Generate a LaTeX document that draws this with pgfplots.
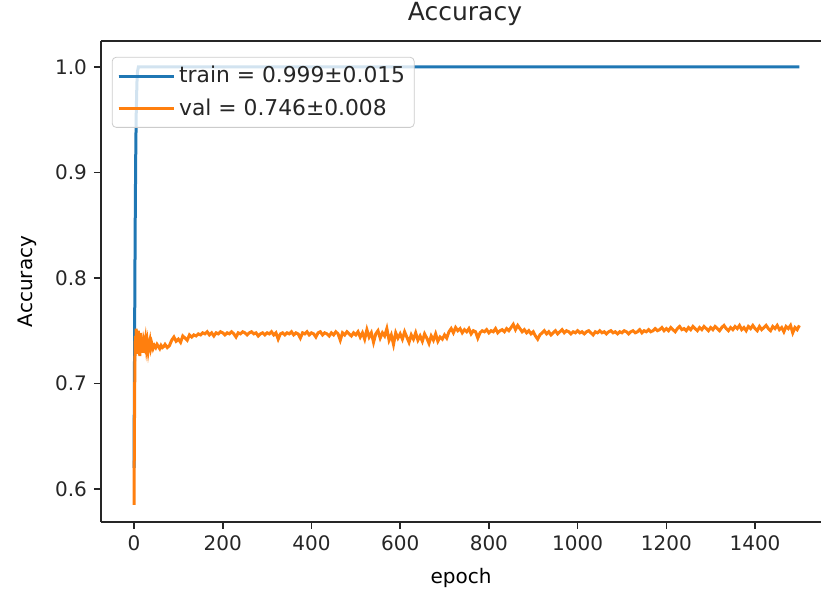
\documentclass[border=0pt]{standalone}
\usepackage{fontspec}
\setmainfont{DejaVu Sans}
\usepackage{pgfplots}
\pgfplotsset{compat=1.18}
\definecolor{mplblue}{HTML}{1F77B4}
\definecolor{mplorange}{HTML}{FF7F0E}

\begin{document}
\begin{tikzpicture}
\begin{axis}[
  scale only axis, width=360pt, height=240.5pt,
  xmin=-74.4, xmax=1548.7, ymin=0.5687, ymax=1.0246,
  axis x line*=box, axis y line*=left,
  xtick pos=left, ytick pos=left,
  xtick={0,200,...,1400}, ytick={0.6,0.7,0.8,0.9,1.0},
  tick align=outside, major tick length=3.5pt,
  every tick/.style={black!85, line width=0.8pt},
  axis line style={black!85, line width=0.8pt},
  /pgf/number format/assume math mode=true,
  /pgf/number format/1000 sep={},
  yticklabel style={/pgf/number format/fixed, /pgf/number format/fixed zerofill, /pgf/number format/precision=1},
  tick label style={font=\fontsize{10}{12}\selectfont, text=black!85},
  label style={font=\fontsize{10}{12}\selectfont, text=black!85},
  title={Accuracy},
  title style={font=\fontsize{12.5}{14}\selectfont, text=black!85, at={(rel axis cs:0.5,1)}, anchor=base, yshift=4pt, xshift=2pt},
  xlabel={epoch}, ylabel={Accuracy},
  every axis x label/.style={at={(rel axis cs:0.5,0)}, anchor=center, yshift=-28pt},
  every axis y label/.style={at={(rel axis cs:0,0.5)}, anchor=center, rotate=90, yshift=37pt},
  legend style={at={(rel axis cs:0.015,0.967)}, anchor=north west, draw=black!20, rounded corners=2pt,
    fill=white, fill opacity=0.8, text opacity=1, font=\fontsize{10.9}{13}\selectfont, text=black!85,
    row sep=2.5pt, inner sep=2.5pt},
  legend cell align=left,
  legend image code/.code={\draw[#1] (0pt,0pt) -- (22pt,0pt);\path (0pt,0pt) -- (27.5pt,0pt);},
]
\coordinate (ll) at (rel axis cs:0,0);
\coordinate (ur) at (rel axis cs:1,1);
\addplot[mplblue, line width=1.5pt] coordinates {
(0,0.62)(1,0.71)(2,0.80)(3,0.87)(4,0.92)(5,0.955)(6,0.975)(7,0.99)(8,0.996)(10,1.0)(1500,1.0)
};
\addlegendentry{train = 0.999±0.015}
\addplot[mplorange, line width=1.5pt] coordinates {
(0,0.585)(1,0.66)(2,0.72)(3,0.745)(4,0.73)(5,0.752)(6,0.735)(7,0.748)(8,0.728)(9,0.742)
(10,0.75)(11,0.733)(12,0.745)(13,0.726)(14,0.738)(15,0.748)(16,0.731)(17,0.741)(18,0.735)(19,0.744)
(20,0.729)(22,0.74)(24,0.736)(26,0.742)(28,0.733)(30,0.739)(32,0.731)(34,0.737)(36,0.741)(38,0.734)
(40,0.738)(43,0.733)(46,0.736)(49,0.734)(52,0.737)(55,0.735)(58,0.733)(61,0.736)(64,0.734)(67,0.735)
(70,0.737)(75,0.734)(80,0.736)(85,0.741)(90,0.744)(95,0.74)(100,0.742)(105,0.739)(110,0.745)(115,0.743)
(120,0.741)(125,0.746)(130,0.744)(135,0.746)(140,0.745)(145,0.747)
(150,0.746)(155,0.748)(160,0.747)(165,0.749)(170,0.746)(175,0.748)(180,0.745)(185,0.748)(190,0.747)(195,0.749)
(200,0.748)(205,0.746)(210,0.748)(215,0.747)(220,0.749)(225,0.747)(230,0.744)(235,0.748)(240,0.747)(245,0.749)
(250,0.748)(255,0.746)(260,0.748)(265,0.749)(270,0.747)(275,0.748)(280,0.745)(285,0.747)(290,0.748)(295,0.746)
(300,0.748)(305,0.747)(310,0.749)(315,0.746)(320,0.748)(325,0.742)(330,0.747)(335,0.748)(340,0.746)(345,0.748)
(350,0.747)(355,0.749)(360,0.746)(365,0.748)(370,0.747)(375,0.743)(380,0.748)(385,0.747)(390,0.749)(395,0.746)
(400,0.748)(405,0.747)(410,0.744)(415,0.748)(420,0.749)(425,0.746)(430,0.748)(435,0.747)(440,0.745)(445,0.748)
(450,0.746)(455,0.749)(460,0.747)(465,0.741)(470,0.748)(475,0.746)(480,0.749)(485,0.747)(490,0.745)(495,0.748)
(500,0.746)(505,0.749)(510,0.744)(515,0.748)(520,0.742)(525,0.751)(530,0.744)(535,0.748)(540,0.739)(545,0.747)
(550,0.750)(555,0.743)(560,0.748)(565,0.745)(570,0.752)(575,0.741)(580,0.746)(585,0.737)(590,0.748)(595,0.743)
(600,0.747)(605,0.742)(610,0.749)(615,0.744)(620,0.739)(625,0.746)(630,0.742)(635,0.748)(640,0.741)(645,0.745)
(650,0.740)(655,0.747)(660,0.743)(665,0.738)(670,0.745)(675,0.741)(680,0.747)(685,0.740)(690,0.744)(695,0.742)
(700,0.746)(705,0.743)(710,0.749)(715,0.752)(720,0.748)(725,0.753)(730,0.750)(735,0.752)(740,0.748)(745,0.751)
(750,0.749)(755,0.752)(760,0.747)(765,0.750)(770,0.749)(775,0.743)(780,0.748)(785,0.750)(790,0.749)(795,0.751)
(800,0.748)(805,0.750)(810,0.749)(815,0.752)(820,0.748)(825,0.750)(830,0.751)(835,0.749)(840,0.752)(845,0.750)
(850,0.753)(855,0.756)(860,0.751)(865,0.755)(870,0.752)(875,0.749)(880,0.751)(885,0.748)(890,0.750)(895,0.747)
(900,0.749)(905,0.745)(910,0.742)(915,0.746)(920,0.748)(925,0.750)(930,0.747)(935,0.749)(940,0.746)(945,0.748)
(950,0.750)(955,0.747)(960,0.749)(965,0.751)(970,0.748)(975,0.750)(980,0.749)(985,0.747)(990,0.749)(995,0.748)
(1000,0.750)(1005,0.748)(1010,0.749)(1015,0.747)(1020,0.749)(1025,0.750)(1030,0.748)(1035,0.746)(1040,0.749)(1045,0.748)
(1050,0.750)(1055,0.748)(1060,0.749)(1065,0.747)(1070,0.749)(1075,0.750)(1080,0.748)(1085,0.749)(1090,0.747)(1095,0.749)
(1100,0.748)(1105,0.750)(1110,0.749)(1115,0.747)(1120,0.749)(1125,0.750)(1130,0.748)(1135,0.749)(1140,0.751)(1145,0.748)
(1150,0.750)(1155,0.749)(1160,0.751)(1165,0.749)(1170,0.750)(1175,0.752)(1180,0.750)(1185,0.751)(1190,0.753)(1195,0.750)
(1200,0.752)(1205,0.750)(1210,0.753)(1215,0.751)(1220,0.749)(1225,0.752)(1230,0.754)(1235,0.751)(1240,0.752)(1245,0.750)
(1250,0.753)(1255,0.751)(1260,0.754)(1265,0.752)(1270,0.750)(1275,0.753)(1280,0.751)(1285,0.754)(1290,0.752)(1295,0.750)
(1300,0.753)(1305,0.751)(1310,0.754)(1315,0.752)(1320,0.750)(1325,0.753)(1330,0.755)(1335,0.752)(1340,0.750)(1345,0.753)
(1350,0.751)(1355,0.754)(1360,0.752)(1365,0.755)(1370,0.751)(1375,0.753)(1380,0.750)(1385,0.754)(1390,0.752)(1395,0.755)
(1400,0.752)(1405,0.750)(1410,0.754)(1415,0.751)(1420,0.753)(1425,0.755)(1430,0.752)(1435,0.750)(1440,0.754)(1445,0.752)
(1450,0.755)(1455,0.751)(1460,0.753)(1465,0.749)(1470,0.754)(1475,0.752)(1480,0.755)(1485,0.748)(1490,0.753)(1495,0.751)(1500,0.755)
};
\addlegendentry{val = 0.746±0.008}
\end{axis}
\pgfresetboundingbox
\path ([xshift=-50.5pt,yshift=-35pt]ll) rectangle ([yshift=20.5pt]ur);
\end{tikzpicture}
\end{document}
